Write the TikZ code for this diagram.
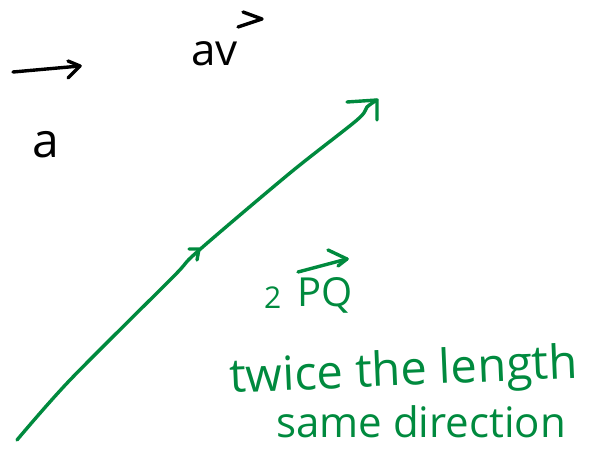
\documentclass[tikz,border=0pt]{standalone}
\usepackage{fontspec}
\setmainfont{Open Sans}
\definecolor{pen}{RGB}{0,138,62}
\tikzset{
  ink/.style={line width=3.4pt, line cap=round, line join=round},
  txt/.style={inner sep=0pt, anchor=base west}
}
\begin{document}
\begin{tikzpicture}[x=1pt,y=-1pt]
\useasboundingbox (0,0) rectangle (594,449);
% ---- black part
\coordinate (a0) at (13,72);
\coordinate (a1) at (80,66);
\coordinate (ah1) at (68,61);
\coordinate (ah2) at (68,78);
\draw[ink] (a0) -- (a1);
\draw[ink] (ah1) -- (a1) -- (ah2);
\node[txt, font=\fontsize{48}{48}\selectfont] (la) at (32,158) {a};
\node[txt, font=\fontsize{44}{44}\selectfont] (lav) at (191,66) {av};
\coordinate (v0) at (243,12);
\coordinate (v1) at (262,19);
\coordinate (v2) at (238,27);
\draw[ink] (v0) -- (v1) -- (v2);
% ---- green vector
\coordinate (P) at (17,440);
\coordinate (M) at (197,252);
\coordinate (Q) at (377,100);
\draw[ink, pen] plot[smooth, tension=0.5] coordinates
  {(P) (70,380) (173,277) (M) (290,173) (357,120) (367,107) (Q)};
\coordinate (m1) at (189,249);
\coordinate (m2) at (199,249);
\coordinate (m3) at (197,260);
\draw[ink, pen] (m1) -- (m2) -- (m3);
\coordinate (q1) at (347,102);
\coordinate (q2) at (377,120);
\draw[ink, pen] (q1) -- (Q) -- (q2);
% ---- labels
\node[txt, pen, font=\fontsize{30}{30}\selectfont] (two) at (264,308) {2};
\node[txt, pen, font=\fontsize{40}{40}\selectfont] (pq) at (297,306) {PQ};
\coordinate (o0) at (298,272);
\coordinate (o1) at (347,259);
\coordinate (oh1) at (328,250);
\coordinate (oh2) at (338,266);
\draw[ink, pen] (o0) -- (o1);
\draw[ink, pen] (oh1) -- (o1) -- (oh2);
\node[txt, pen, rotate=2.5, font=\fontsize{47}{47}\selectfont] (t1) at (230,393) {twice the length};
\node[txt, pen, font=\fontsize{42}{42}\selectfont] (t2) at (276,437) {same direction};
\end{tikzpicture}
\end{document}
